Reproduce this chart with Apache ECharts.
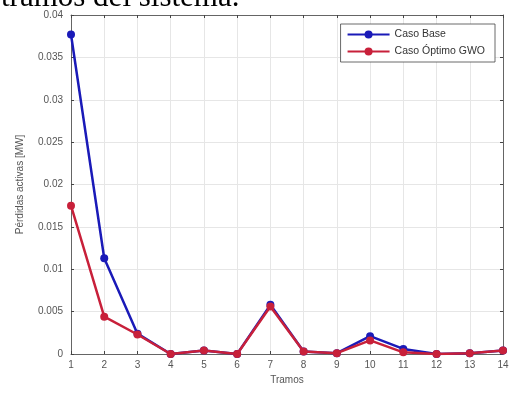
<!DOCTYPE html>
<html><head><meta charset="utf-8">
<script src="https://cdn.jsdelivr.net/npm/echarts@6/dist/echarts.min.js"></script>
<style>html,body{margin:0;padding:0;background:#fff}#c{width:513px;height:394px}</style>
</head><body><div id="c"></div>
<script>
const tramos = [1,2,3,4,5,6,7,8,9,10,11,12,13,14];
const casoBase = [0.0377,0.0113,0.0024,0.0000,0.0004,0.0000,0.0058,0.0003,0.0001,0.0021,0.0006,0.0000,0.0001,0.0004];
const casoOptimo = [0.0175,0.0044,0.0023,0.0000,0.0004,0.0000,0.0056,0.0003,0.0001,0.0016,0.0002,0.0000,0.0001,0.0004];
const yTicks = [0,0.005,0.01,0.015,0.02,0.025,0.03,0.035,0.04];

const chart = echarts.init(document.getElementById('c'));
const fontFam = 'Liberation Sans, Arial, sans-serif';
const lbl = {color:'#555', fontSize:10, fontFamily:fontFam};
chart.setOption({
  animation:false,
  grid:{left:71,right:10,top:15,bottom:40},
  graphic:[{type:'text',left:1,top:-18,style:{text:'tramos del sistema.',font:'31px "Liberation Serif", "Times New Roman", serif',fill:'#000'}}],
  legend:{
    right:18,top:24,orient:'vertical',
    backgroundColor:'#fff',borderColor:'#444',borderWidth:0.8,borderRadius:0,
    padding:[5,10,5,6],itemGap:6,itemWidth:42,itemHeight:10,
    textStyle:{color:'#333',fontSize:10.5,fontFamily:fontFam},
    data:['Caso Base','Caso Óptimo GWO']
  },
  xAxis:[{
    type:'value',min:1,max:14,interval:1,
    name:'Tramos',nameLocation:'middle',nameGap:21,nameTextStyle:{color:'#555',fontSize:10,fontFamily:fontFam},
    axisLine:{lineStyle:{color:'#444',width:0.8}},
    axisTick:{inside:true,length:3,lineStyle:{color:'#444'}},
    axisLabel:Object.assign({margin:6},lbl),
    splitLine:{show:true,lineStyle:{color:'#e6e6e6',width:1}}
  },{
    type:'value',position:'top',min:1,max:14,interval:1,
    axisLine:{show:true,onZero:false,lineStyle:{color:'#444',width:0.8}},
    axisTick:{show:true,inside:true,length:3,lineStyle:{color:'#444'}},
    axisLabel:{show:false},splitLine:{show:false}
  }],
  yAxis:[{
    type:'value',min:0,max:0.04,interval:0.005,
    name:'Pérdidas activas [MW]',nameLocation:'middle',nameGap:46,nameTextStyle:{color:'#555',fontSize:10,fontFamily:fontFam},
    axisLine:{show:true,lineStyle:{color:'#444',width:0.8}},
    axisTick:{show:true,inside:true,length:3,lineStyle:{color:'#444'}},
    axisLabel:Object.assign({margin:8,formatter:v=>String(+v.toFixed(3))},lbl),
    splitLine:{show:true,lineStyle:{color:'#e6e6e6',width:1}}
  },{
    type:'value',position:'right',min:0,max:0.04,interval:0.005,
    axisLine:{show:true,onZero:false,lineStyle:{color:'#444',width:0.8}},
    axisTick:{show:true,inside:true,length:3,lineStyle:{color:'#444'}},
    axisLabel:{show:false},splitLine:{show:false}
  }],
  series:[{
    name:'Caso Base',type:'line',data:tramos.map((t,i)=>[t,casoBase[i]]),
    symbol:'circle',symbolSize:8,color:'#1a1ab8',
    lineStyle:{width:2.5,color:'#1a1ab8'},itemStyle:{color:'#1a1ab8'},z:2
  },{
    name:'Caso Óptimo GWO',type:'line',data:tramos.map((t,i)=>[t,casoOptimo[i]]),
    symbol:'circle',symbolSize:8,color:'#c8203a',
    lineStyle:{width:2.5,color:'#c8203a'},itemStyle:{color:'#c8203a'},z:3
  }]
});
</script></body></html>
